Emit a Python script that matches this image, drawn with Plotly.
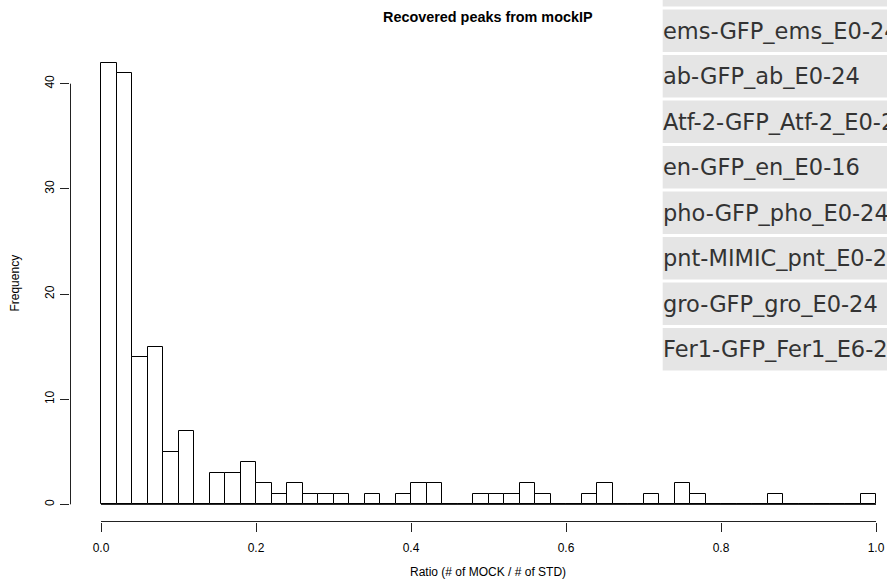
import numpy as np
import plotly.graph_objects as go

# ---------------- data ----------------
bin_width = 0.02
bin_edges = np.round(np.arange(0, 1.0 + bin_width / 2, bin_width), 2)
bin_centers = (bin_edges[:-1] + bin_edges[1:]) / 2
counts = [42, 41, 14, 15, 5, 7, 0, 3, 3, 4,
          2, 1, 2, 1, 1, 1, 0, 1, 0, 1,
          2, 2, 0, 0, 1, 1, 1, 2, 1, 0,
          0, 1, 2, 0, 0, 1, 0, 2, 1, 0,
          0, 0, 0, 1, 0, 0, 0, 0, 0, 1]
x_ticks = [0.0, 0.2, 0.4, 0.6, 0.8, 1.0]
x_tick_labels = ["0.0", "0.2", "0.4", "0.6", "0.8", "1.0"]
y_ticks = [0, 10, 20, 30, 40]
y_tick_labels = ["0", "10", "20", "30", "40"]
table_labels = ["", "ems-GFP_ems_E0-24", "ab-GFP_ab_E0-24", "Atf-2-GFP_Atf-2_E0-24",
                "en-GFP_en_E0-16", "pho-GFP_pho_E0-24", "pnt-MIMIC_pnt_E0-24",
                "gro-GFP_gro_E0-24", "Fer1-GFP_Fer1_E6-24"]
title = "Recovered peaks from mockIP"
x_title = "Ratio (# of MOCK / # of STD)"
y_title = "Frequency"

# ---------------- layout geometry (pixels) ----------------
W, H = 887, 586
L, R, T, B = 70, 0, 44.6, 63.7
plot_w = W - L - R
plot_h = H - T - B
X_RANGE = [-0.04, -0.04 + plot_w / 775.0]
Y_RANGE = [-1.68, 43.68]


def px_x(px):
    return (px - L) / plot_w


def px_y(py):
    return (H - B - py) / plot_h


def dx_paper(v):
    return (v - X_RANGE[0]) / (X_RANGE[1] - X_RANGE[0])


def dy_paper(v):
    return (v - Y_RANGE[0]) / (Y_RANGE[1] - Y_RANGE[0])


FONT = "Liberation Sans, Arial, Helvetica, sans-serif"
AXIS_COLOR = "#222222"

fig = go.Figure()
fig.add_trace(go.Bar(
    x=bin_centers, y=counts, width=bin_width,
    marker=dict(color="white", line=dict(color="black", width=1)),
    showlegend=False, hoverinfo="x+y",
))

shapes = []
# baseline of histogram
shapes.append(dict(type="line", xref="x", yref="y", x0=bin_edges[0], x1=bin_edges[-1],
                   y0=0, y1=0, line=dict(color="black", width=1)))
# R-style detached axes
shapes.append(dict(type="line", xref="paper", yref="paper",
                   x0=dx_paper(x_ticks[0]), x1=dx_paper(x_ticks[-1]),
                   y0=px_y(521.8), y1=px_y(521.8), line=dict(color=AXIS_COLOR, width=1)))
shapes.append(dict(type="line", xref="paper", yref="paper", x0=px_x(70.5), x1=px_x(70.5),
                   y0=dy_paper(y_ticks[0]), y1=dy_paper(y_ticks[-1]),
                   line=dict(color=AXIS_COLOR, width=1)))

annotations = []
# overlay table
row_top0 = 9 - 45.57
row_step = 45.57
row_h = 42.7
cell_left = 662.7
for i, lab in enumerate(table_labels):
    top = row_top0 + i * row_step
    bot = top + row_h
    shapes.append(dict(type="rect", xref="paper", yref="paper", layer="above",
                       x0=px_x(cell_left), x1=px_x(W + 20), y0=px_y(bot), y1=px_y(top),
                       fillcolor="#e5e5e5", line=dict(width=0)))
    if lab:
        annotations.append(dict(text=lab, xref="paper", yref="paper", showarrow=False,
                                x=px_x(cell_left - 2), y=px_y((top + bot) / 2),
                                xanchor="left", yanchor="middle",
                                font=dict(family="DejaVu Sans", size=22.5, color="#333333")))

annotations.append(dict(text="<b>" + title + "</b>", xref="paper", yref="paper", showarrow=False,
                        x=px_x(487.5), y=px_y(17), xanchor="center", yanchor="middle",
                        font=dict(family=FONT, size=14.4, color="black")))
annotations.append(dict(text=x_title, xref="paper", yref="paper", showarrow=False,
                        x=px_x(487.5), y=px_y(572), xanchor="center", yanchor="middle",
                        font=dict(family=FONT, size=12, color="black")))
annotations.append(dict(text=y_title, xref="paper", yref="paper", showarrow=False,
                        x=px_x(15), y=px_y(283.5), xanchor="center", yanchor="middle",
                        textangle=-90, font=dict(family=FONT, size=12, color="black")))

fig.update_layout(
    width=W, height=H,
    margin=dict(l=L, r=R, t=T, b=B, pad=0),
    paper_bgcolor="white", plot_bgcolor="white",
    bargap=0,
    shapes=shapes, annotations=annotations,
    xaxis=dict(range=X_RANGE, showgrid=False, zeroline=False,
               showline=False, tickmode="array", tickvals=x_ticks, ticktext=x_tick_labels,
               ticks="outside", ticklen=9, tickcolor=AXIS_COLOR, tickwidth=1,
               tickfont=dict(family=FONT, size=12, color="black"), ticklabelstandoff=6),
    yaxis=dict(range=Y_RANGE, showgrid=False, zeroline=False, showline=False,
               tickmode="array", tickvals=y_ticks, ticktext=y_tick_labels,
               ticks="outside", ticklen=9, tickcolor=AXIS_COLOR, tickwidth=1, tickangle=-90,
               tickfont=dict(family=FONT, size=12, color="black"), ticklabelstandoff=1),
)

fig.write_html("out.html")
